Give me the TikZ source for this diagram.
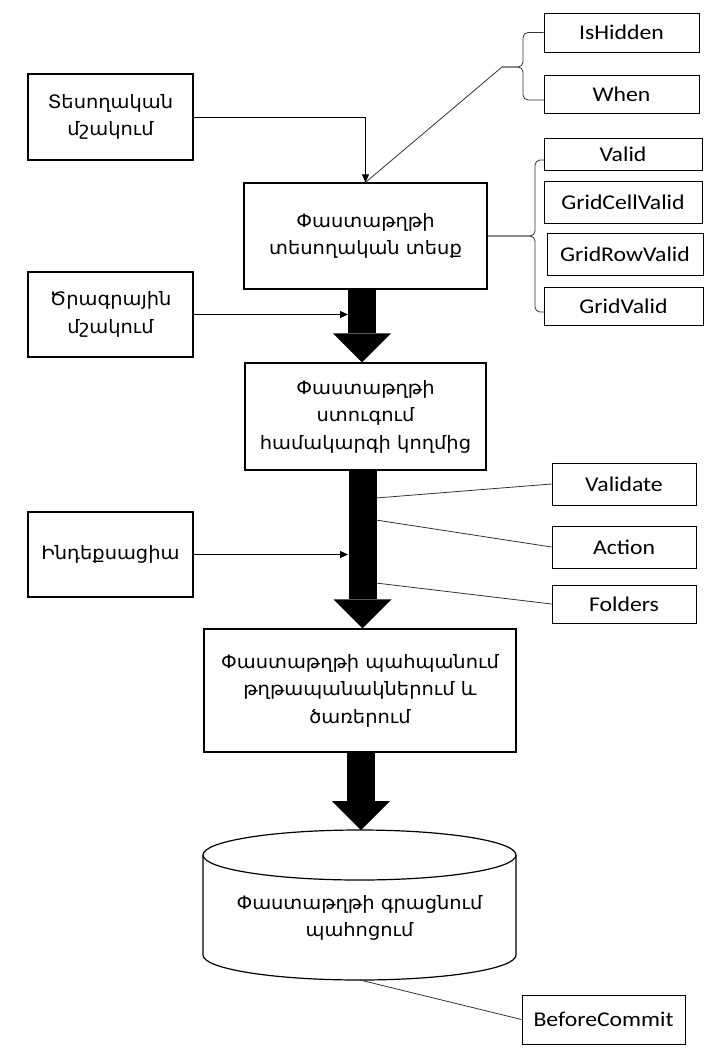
\documentclass[tikz,border=0pt]{standalone}
\usepackage{fontspec}
\setmainfont{Carlito}[FakeStretch=1.13]
\newfontfamily\armfont{DejaVu Sans}[FakeStretch=1.05]
\usetikzlibrary{arrows.meta}

\begin{document}
\begin{tikzpicture}[x=1pt,y=-1pt,
  box/.style={draw,line width=1.2pt,align=center,inner sep=0pt,font=\armfont\fontsize{18.5}{27.5}\selectfont},
  tag/.style={draw,line width=1pt,inner sep=0pt,font=\fontsize{21}{24}\selectfont},
  link/.style={line width=0.8pt,draw=black!80},
  feed/.style={line width=0.9pt,-{Triangle[length=8pt,width=7pt]}},
  bigarr/.style={line width=28pt,-{Triangle[length=29pt,width=58pt,line width=0pt]}}]
  \useasboundingbox (0,0) rectangle (720,1061);

  \node[box,minimum width=165pt,minimum height=86pt] (visproc) at (110.5,117) {Տեսողական\\մշակում};
  \node[box,minimum width=243pt,minimum height=106pt] (look) at (365.5,236) {Փաստաթղթի\\տեսողական տեսք};
  \node[box,minimum width=165pt,minimum height=85pt] (progproc) at (110.5,314.5) {Ծրագրային\\մշակում};
  \node[box,minimum width=241pt,minimum height=107pt] (check) at (365.5,416.5) {Փաստաթղթի\\ստուգում\\համակարգի կողմից};
  \node[box,minimum width=165pt,minimum height=85pt] (index) at (110.5,554.5) {Ինդեքսացիա};
  \node[box,minimum width=312pt,minimum height=123pt] (keep) at (360,690.5) {Փաստաթղթի պահպանում\\թղթապանակներում և\\ծառերում};

  \draw[line width=1.2pt] (203,855) -- (203,955) arc[start angle=180,end angle=0,x radius=156.5,y radius=25] -- (516,855);
  \draw[line width=1.2pt] (359.5,855) ellipse[x radius=156.5,y radius=25];
  \node[align=center,font=\armfont\fontsize{18.5}{27.5}\selectfont] (store) at (359.5,918) {Փաստաթղթի գրացնում\\պահոցում};
  \coordinate (storetop) at (361,830);
  \coordinate (storebot) at (360,980);

  \node[tag,minimum width=155pt,minimum height=39pt] (hidden) at (621.5,32.5) {IsHidden};
  \node[tag,minimum width=155pt,minimum height=38pt] (when) at (621.5,94) {When};
  \node[tag,minimum width=158pt,minimum height=32pt] (valid) at (623,154) {Valid};
  \node[tag,minimum width=158pt,minimum height=42pt] (cell) at (623,202) {GridCellValid};
  \node[tag,minimum width=156pt,minimum height=42pt] (row) at (625,254) {GridRowValid};
  \node[tag,minimum width=159pt,minimum height=38pt] (grid) at (623.5,306) {GridValid};
  \node[tag,minimum width=144pt,minimum height=42pt] (validate) at (624,484) {Validate};
  \node[tag,minimum width=144pt,minimum height=42pt] (action) at (624,547) {Action};
  \node[tag,minimum width=144pt,minimum height=38pt] (folders) at (624,604) {Folders};
  \node[tag,minimum width=163pt,minimum height=49pt] (commit) at (603.5,1019.5) {BeforeCommit};

  \draw[bigarr] ([xshift=-3.5pt]look.south) -- ([xshift=-3.5pt]check.north);
  \draw[bigarr] ([xshift=-3pt]check.south) -- ([xshift=2.5pt]keep.north);
  \draw[bigarr] ([xshift=1pt]keep.south) -- (storetop);

  \coordinate (s1) at (348,314.5);
  \coordinate (s2) at (348,554.5);
  \draw[feed] (visproc.east) -| (look.north);
  \draw[feed] (progproc.east) -- (s1);
  \draw[feed] (index.east) -- (s2);

  \coordinate (br1) at (502,67);
  \draw[link] (look.north) -- (br1);
  \draw[link,rounded corners=5pt] (hidden.west) -| (523,67) -- (br1);
  \draw[link,rounded corners=5pt] (544,100) -| (523,67) -- (br1);
  \draw[link,rounded corners=5pt] (544,160) -| (535,236) -- (look.east);
  \draw[link,rounded corners=5pt] (544,312) -| (535,236) -- (look.east);

  \coordinate (o1) at (376,498);
  \coordinate (o2) at (376,520);
  \coordinate (o3) at (376,583);
  \draw[link] (o1) -- (validate.west);
  \draw[link] (o2) -- (action.west);
  \draw[link] (o3) -- (folders.west);
  \draw[link] (storebot) -- (commit.west);
\end{tikzpicture}
\end{document}
